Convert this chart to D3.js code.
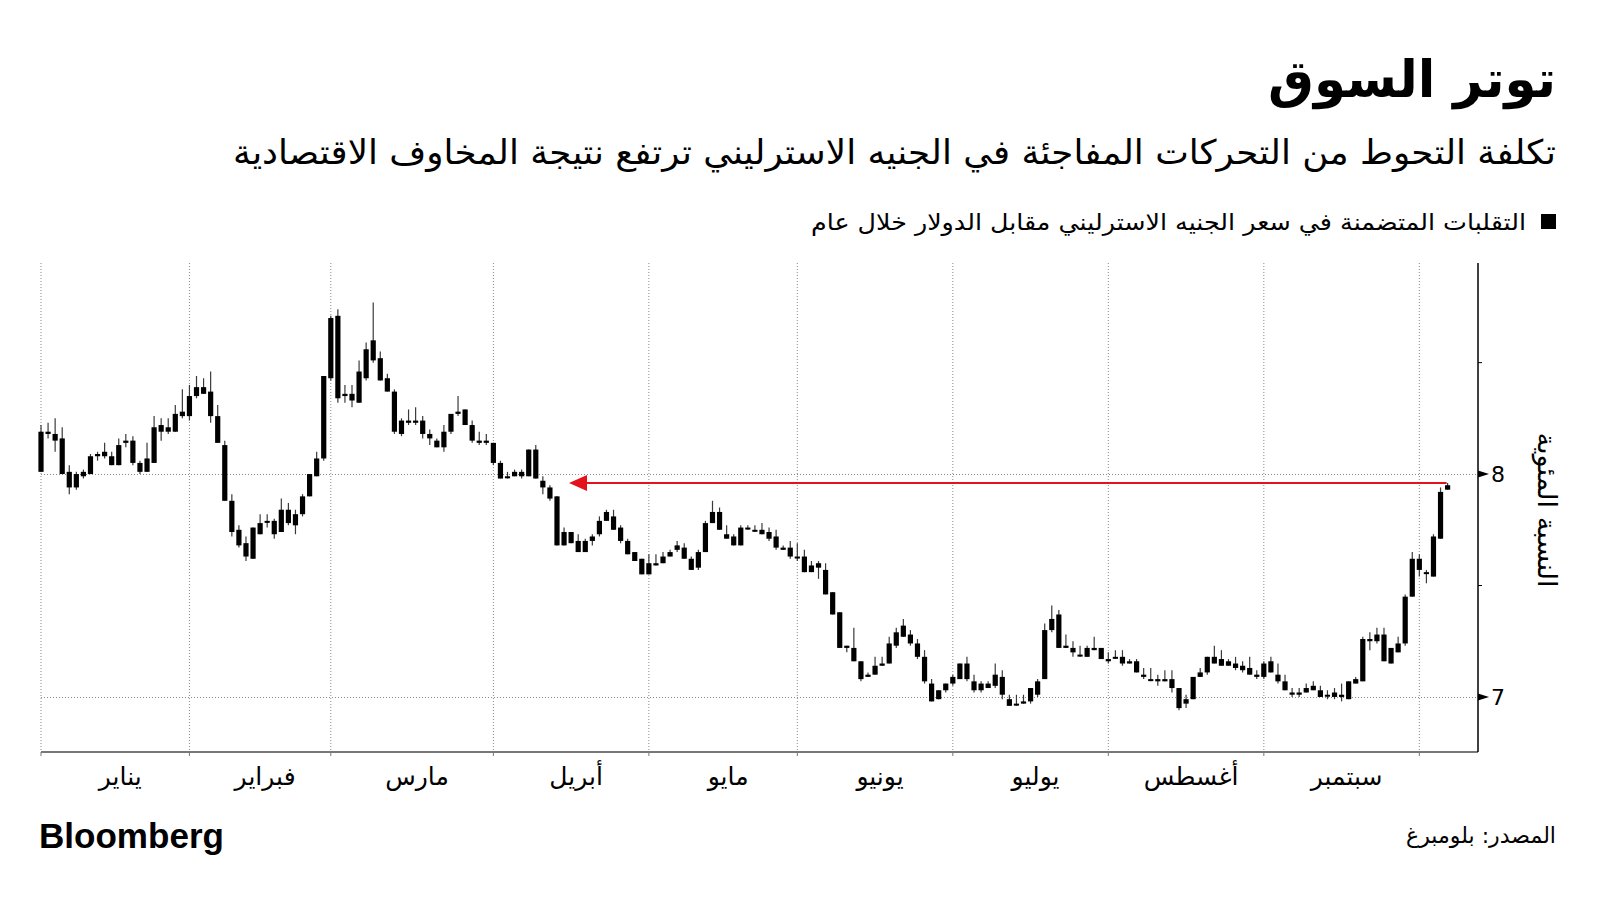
<!DOCTYPE html>
<html><head><meta charset="utf-8">
<script src="https://cdn.jsdelivr.net/npm/d3@7"></script>
<style>
html,body{margin:0;padding:0;background:#fff;}
svg{display:block;}
</style></head>
<body>
<svg id="chart" width="1600" height="900"></svg>
<script>
// ---------- DATA ----------
const title = "توتر السوق";
const subtitle = "تكلفة التحوط من التحركات المفاجئة في الجنيه الاسترليني ترتفع نتيجة المخاوف الاقتصادية";
const legendLabel = "التقلبات المتضمنة في سعر الجنيه الاسترليني مقابل الدولار خلال عام";
const yAxisTitle = "النسبة المئوية";
const sourceText = "المصدر: بلومبرغ";
const brand = "Bloomberg";

const months = ["يناير","فبراير","مارس","أبريل","مايو","يونيو","يوليو","أغسطس","سبتمبر"];
// index of first trading-day candle of each month (Jan..Oct)
const monthStart = [0,21,41,64,86,107,129,151,173,195];

const yTickValues = [7, 7.5, 8, 8.5];
const yTickLabels = ["7", "", "8", ""];

// Daily candles: body top / body bottom / high / low
const bodyTop = [
8.19,8.19,8.18,8.16,8.01,8.00,8.01,8.08,8.09,8.10,8.08,8.13,8.15,8.15,8.05,8.07,8.21,8.22,8.21,8.27,8.28,
8.35,8.39,8.39,8.37,8.26,8.13,7.88,7.75,7.69,7.76,7.78,7.79,7.79,7.84,7.84,7.82,7.90,8.00,8.07,8.44,
8.70,8.71,8.36,8.36,8.46,8.56,8.60,8.52,8.43,8.37,8.24,8.24,8.24,8.24,8.18,8.15,8.19,8.27,8.28,8.29,8.22,8.15,8.15,
8.14,8.05,7.99,8.01,8.01,8.11,8.11,7.97,7.94,7.90,7.74,7.74,7.70,7.70,7.72,7.79,7.83,7.81,7.76,7.70,7.65,7.62,
7.60,7.60,7.63,7.65,7.68,7.67,7.62,7.65,7.78,7.83,7.83,7.73,7.72,7.76,7.76,7.75,7.75,7.74,7.72,7.67,7.67,
7.63,7.63,7.59,7.60,7.57,7.47,7.38,7.23,7.22,7.16,7.10,7.14,7.15,7.24,7.29,7.32,7.28,7.24,7.18,7.06,7.03,7.06,
7.09,7.15,7.15,7.07,7.06,7.06,7.10,7.09,6.99,6.97,6.98,7.04,7.07,7.30,7.35,7.37,7.23,7.22,7.19,7.22,7.22,7.22,
7.17,7.18,7.18,7.16,7.16,7.10,7.08,7.08,7.08,7.08,7.04,6.99,7.09,7.11,7.18,7.18,7.17,7.16,7.15,7.14,7.13,7.10,
7.15,7.16,7.10,7.07,7.02,7.02,7.04,7.05,7.03,7.01,7.02,7.01,7.07,7.08,7.26,7.26,7.28,7.28,7.22,7.24,7.45,7.62,
7.62,7.56,7.72,7.92,7.95
];
const bodyBottom = [
8.01,8.18,8.15,8.00,7.94,7.94,7.99,8.00,8.08,8.08,8.04,8.04,8.14,8.05,8.01,8.01,8.05,8.19,8.19,8.19,8.26,
8.26,8.35,8.36,8.26,8.14,7.88,7.74,7.68,7.63,7.62,7.73,7.785,7.73,7.74,7.78,7.77,7.82,7.90,7.99,8.07,
8.43,8.34,8.35,8.33,8.32,8.43,8.51,8.42,8.37,8.19,8.18,8.23,8.23,8.18,8.16,8.12,8.12,8.19,8.27,8.22,8.15,8.14,8.14,
8.05,7.98,7.985,7.99,7.99,7.99,7.98,7.94,7.89,7.68,7.68,7.69,7.65,7.65,7.70,7.73,7.79,7.75,7.70,7.64,7.61,7.55,
7.55,7.59,7.60,7.63,7.66,7.62,7.57,7.58,7.65,7.78,7.75,7.71,7.68,7.68,7.755,7.745,7.73,7.71,7.67,7.66,7.63,
7.625,7.56,7.56,7.58,7.46,7.37,7.22,7.22,7.16,7.08,7.09,7.10,7.14,7.15,7.23,7.27,7.24,7.18,7.07,6.98,6.99,7.03,
7.06,7.08,7.08,7.03,7.03,7.04,7.05,7.01,6.96,6.965,6.97,6.98,7.01,7.08,7.30,7.22,7.22,7.20,7.185,7.18,7.21,7.17,
7.16,7.175,7.15,7.15,7.11,7.09,7.075,7.07,7.07,7.04,6.95,6.97,6.99,7.09,7.11,7.15,7.14,7.14,7.13,7.12,7.10,7.09,
7.09,7.11,7.07,7.03,7.01,7.01,7.02,7.03,7.00,7.005,7.00,7.00,6.99,7.06,7.07,7.25,7.25,7.16,7.15,7.20,7.24,7.45,
7.57,7.555,7.54,7.71,7.93
];
const high = [
8.22,8.23,8.25,8.21,8.04,8.01,8.02,8.09,8.10,8.14,8.10,8.16,8.18,8.17,8.06,8.14,8.26,8.25,8.25,8.31,8.38,
8.40,8.44,8.43,8.46,8.31,8.15,7.91,7.77,7.72,7.76,7.82,7.82,7.80,7.89,7.87,7.84,7.91,8.00,8.10,8.44,
8.71,8.74,8.40,8.40,8.51,8.59,8.77,8.55,8.45,8.38,8.25,8.29,8.30,8.26,8.20,8.16,8.22,8.27,8.35,8.29,8.24,8.19,8.18,
8.14,8.06,8.01,8.02,8.02,8.11,8.13,7.99,7.95,7.90,7.76,7.74,7.73,7.71,7.73,7.81,7.84,7.84,7.77,7.71,7.65,7.62,
7.64,7.64,7.65,7.66,7.70,7.69,7.63,7.66,7.79,7.88,7.85,7.77,7.73,7.77,7.77,7.77,7.78,7.76,7.75,7.68,7.70,
7.69,7.66,7.61,7.61,7.60,7.47,7.38,7.23,7.31,7.16,7.11,7.18,7.18,7.27,7.31,7.35,7.30,7.26,7.21,7.08,7.03,7.06,
7.10,7.15,7.18,7.10,7.07,7.07,7.15,7.12,7.01,7.01,7.01,7.04,7.08,7.33,7.41,7.39,7.28,7.25,7.23,7.23,7.27,7.22,
7.20,7.21,7.21,7.17,7.17,7.13,7.13,7.10,7.12,7.12,7.04,7.01,7.09,7.13,7.18,7.23,7.21,7.17,7.18,7.16,7.18,7.12,
7.16,7.18,7.15,7.10,7.04,7.04,7.06,7.07,7.05,7.03,7.04,7.06,7.07,7.09,7.27,7.29,7.31,7.31,7.22,7.27,7.46,7.65,
7.64,7.57,7.73,7.94,7.96
];
const low = [
8.01,8.16,8.10,8.00,7.91,7.93,7.98,8.00,8.06,8.07,8.04,8.04,8.12,8.04,8.00,8.01,8.05,8.15,8.18,8.19,8.25,
8.24,8.34,8.36,8.23,8.14,7.88,7.72,7.67,7.61,7.62,7.73,7.76,7.71,7.74,7.77,7.73,7.81,7.90,7.99,8.06,
8.42,8.32,8.32,8.30,8.32,8.42,8.50,8.42,8.37,8.18,8.17,8.22,8.22,8.16,8.13,8.12,8.10,8.18,8.26,8.22,8.14,8.13,8.13,
8.04,7.98,7.98,7.99,7.98,7.99,7.98,7.91,7.88,7.68,7.68,7.69,7.65,7.65,7.68,7.72,7.79,7.75,7.69,7.64,7.61,7.55,
7.55,7.59,7.60,7.63,7.65,7.62,7.57,7.57,7.65,7.78,7.75,7.71,7.68,7.68,7.75,7.74,7.73,7.70,7.66,7.66,7.62,
7.61,7.56,7.56,7.53,7.46,7.37,7.22,7.20,7.16,7.07,7.09,7.10,7.14,7.15,7.22,7.27,7.23,7.17,7.06,6.98,6.99,7.02,
7.05,7.08,7.07,7.02,7.02,7.04,7.04,6.99,6.96,6.96,6.97,6.97,7.00,7.08,7.29,7.22,7.22,7.18,7.18,7.18,7.21,7.17,
7.15,7.17,7.14,7.15,7.11,7.08,7.07,7.05,7.07,7.02,6.94,6.95,6.99,7.09,7.10,7.15,7.14,7.14,7.12,7.11,7.10,7.08,
7.08,7.11,7.06,7.03,7.00,7.00,7.02,7.03,7.00,6.99,6.99,6.98,6.99,7.06,7.07,7.21,7.24,7.16,7.15,7.20,7.23,7.45,
7.54,7.51,7.54,7.71,7.93
];
// red reference arrow: from the latest candle back to the same level in April
const arrowLevel = 7.96;
const arrowFromIndex = 199;
const arrowToIndex = 74.7;

// ---------- DRAWING ----------
const svg = d3.select("#chart");
const AR = "'DejaVu Sans', sans-serif";

const x = d3.scaleLinear().domain([0, 203.3]).range([41, 1478]);
const y = d3.scaleLinear().domain([6.753, 8.947]).range([752, 263]);
const plotTop = y(8.947), plotBottom = y(6.753), plotLeft = x(0), plotRight = x(203.3);

// header texts
const titleEl = svg.append("text").attr("x", 1556).attr("y", 97).attr("text-anchor", "end")
  .attr("font-family", AR).attr("font-weight", "bold").attr("font-size", 60)
  .attr("fill", "#000").text(title);
{ // fit title width (~288px) by font size instead of glyph squeezing
  const w = titleEl.node().getComputedTextLength();
  if (w > 0) titleEl.attr("font-size", Math.min(66, 60 * 288 / w));
}
svg.append("text").attr("x", 1556).attr("y", 164).attr("text-anchor", "end")
  .attr("font-family", AR).attr("font-size", 34)
  .attr("textLength", 1323).attr("lengthAdjust", "spacingAndGlyphs").attr("fill", "#000").text(subtitle);
svg.append("rect").attr("x", 1541).attr("y", 214).attr("width", 15).attr("height", 15).attr("fill", "#000");
svg.append("text").attr("x", 1526).attr("y", 230).attr("text-anchor", "end")
  .attr("font-family", AR).attr("font-size", 23)
  .attr("textLength", 715).attr("lengthAdjust", "spacingAndGlyphs").attr("fill", "#000").text(legendLabel);

// grid
const grid = svg.append("g");
grid.selectAll("line.v").data(monthStart).join("line")
  .attr("x1", d => x(d)).attr("x2", d => x(d))
  .attr("y1", plotTop).attr("y2", plotBottom)
  .attr("stroke", "#8a8a8a").attr("stroke-width", 1).attr("stroke-dasharray", "1,2");
grid.selectAll("line.h").data([7, 8]).join("line")
  .attr("x1", plotLeft).attr("x2", plotRight)
  .attr("y1", d => Math.round(y(d)) + 0.5).attr("y2", d => Math.round(y(d)) + 0.5)
  .attr("stroke", "#8a8a8a").attr("stroke-width", 1).attr("stroke-dasharray", "1,2");

// candles
const idx = d3.range(bodyTop.length);
const cg = svg.append("g");
cg.selectAll("line.wick").data(idx).join("line")
  .attr("x1", i => x(i)).attr("x2", i => x(i))
  .attr("y1", i => y(high[i])).attr("y2", i => y(low[i]))
  .attr("stroke", "#3a3a3a").attr("stroke-width", 1.2);
cg.selectAll("rect.body").data(idx).join("rect")
  .attr("x", i => x(i) - 2.6).attr("width", 5.2)
  .attr("y", i => y(Math.max(bodyTop[i], bodyBottom[i])))
  .attr("height", i => Math.max(2, Math.abs(y(bodyTop[i]) - y(bodyBottom[i]))))
  .attr("fill", "#000");

// red arrow
const ay = y(arrowLevel);
svg.append("line").attr("x1", x(arrowFromIndex) - 1).attr("x2", x(arrowToIndex) + 14)
  .attr("y1", ay).attr("y2", ay).attr("stroke", "#e3121b").attr("stroke-width", 2);
const ax = x(arrowToIndex);
svg.append("path").attr("d", `M${ax},${ay} L${ax + 18},${ay - 8} L${ax + 18},${ay + 8} Z`).attr("fill", "#e3121b");

// bottom axis
svg.append("line").attr("x1", plotLeft).attr("x2", plotRight).attr("y1", plotBottom).attr("y2", plotBottom)
  .attr("stroke", "#777").attr("stroke-width", 2);
svg.selectAll("line.mt").data(monthStart).join("line")
  .attr("x1", d => x(d)).attr("x2", d => x(d)).attr("y1", plotBottom).attr("y2", plotBottom + 4)
  .attr("stroke", "#777").attr("stroke-width", 1);
svg.append("g").selectAll("text").data(months).join("text")
  .attr("x", (d, i) => x((monthStart[i] + monthStart[i + 1]) / 2) + 5)
  .attr("y", 785).attr("text-anchor", "middle")
  .attr("font-family", AR).attr("font-size", 25).attr("fill", "#000").text(d => d);

// right axis
svg.append("line").attr("x1", plotRight).attr("x2", plotRight).attr("y1", plotTop).attr("y2", plotBottom)
  .attr("stroke", "#000").attr("stroke-width", 1.5);
const ticks = svg.append("g").selectAll("g").data(yTickValues).join("g")
  .attr("transform", d => `translate(${plotRight},${y(d)})`);
ticks.filter((d, i) => yTickLabels[i] !== "").append("path")
  .attr("d", "M0,-3.5 L11,0 L0,3.5 Z").attr("fill", "#000");
ticks.filter((d, i) => yTickLabels[i] === "").append("line")
  .attr("x1", 0).attr("x2", 4).attr("stroke", "#000").attr("stroke-width", 1);
ticks.append("text").attr("x", 13).attr("y", 8)
  .attr("font-family", "'DejaVu Sans', sans-serif").attr("font-size", 22).attr("fill", "#000")
  .text((d, i) => yTickLabels[i]);
svg.append("text").attr("transform", "translate(1547,510) rotate(90)")
  .attr("text-anchor", "middle").attr("dominant-baseline", "central")
  .attr("font-family", AR).attr("font-size", 26)
  .attr("textLength", 155).attr("lengthAdjust", "spacingAndGlyphs").attr("fill", "#000").text(yAxisTitle);

// footer
svg.append("text").attr("x", 39).attr("y", 848).attr("font-family", "'Liberation Sans', Arial, sans-serif")
  .attr("font-weight", "bold").attr("font-size", 35).attr("textLength", 185).attr("lengthAdjust", "spacingAndGlyphs")
  .attr("fill", "#000").text(brand);
svg.append("text").attr("x", 1556).attr("y", 843).attr("text-anchor", "end")
  .attr("font-family", AR).attr("font-size", 22)
  .attr("textLength", 150).attr("lengthAdjust", "spacingAndGlyphs").attr("fill", "#000").text(sourceText);
</script>
</body></html>
